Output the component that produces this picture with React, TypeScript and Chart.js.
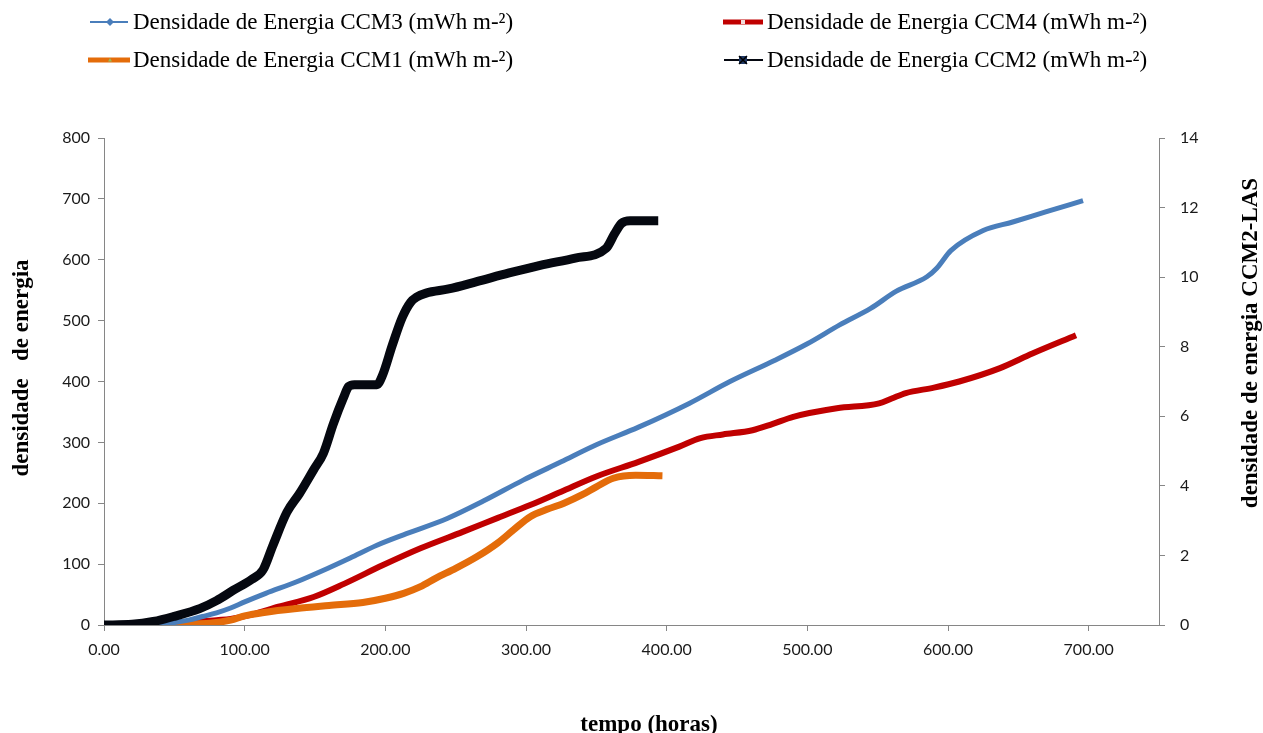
import React, { useEffect, useRef } from "react";
import { Chart, registerables } from "chart.js";

Chart.register(...registerables);

// ---- Data (hours, energy density) ----
const ccm3Hours = [0, 20, 35, 50, 60, 70, 80, 90, 100, 115, 137, 160, 175, 194, 215, 244, 270, 298, 325, 350, 380, 416, 445, 477, 500, 523, 545, 563, 585, 592, 602, 625, 646, 670, 696];
const ccm3Values = [0, 0, 1, 4, 8, 14, 20, 28, 38, 52, 71, 94, 110, 131, 150, 175, 204, 238, 268, 296, 325, 364, 400, 435, 462, 493, 520, 548, 572, 586, 615, 648, 662, 679, 697];

const ccm4Hours = [0, 40, 55, 65, 80, 90, 105, 124, 149, 171, 198, 225, 255, 280, 303, 325, 350, 380, 409, 424, 440, 461, 475, 490, 521, 551, 560, 570, 590, 608, 637, 660, 691];
const ccm4Values = [0, 0, 2, 5, 8, 10, 17, 30, 46, 68, 98, 126, 153, 176, 197, 219, 244, 268, 293, 307, 313, 320, 330, 342, 356, 364, 372, 381, 390, 400, 422, 446, 476];

const ccm1Hours = [0, 20, 40, 60, 75, 90, 100, 115, 137, 160, 184, 200, 213, 225, 236, 250, 265, 280, 291, 303, 315, 327, 340, 350, 362, 378, 397];
const ccm1Values = [0, 0, 1, 2, 3, 8, 15, 21, 27, 32, 37, 44, 52, 63, 77, 93, 112, 135, 156, 178, 190, 200, 214, 227, 241, 246, 245];

// CCM2 plotted on the secondary axis (0-14)
const ccm2Hours = [0, 20, 35, 50, 68, 80, 92, 105, 113, 120, 130, 139, 149, 156, 163, 170, 174, 178, 194, 198, 205, 212, 218, 222, 229, 245, 265, 288, 310, 335, 357, 363, 368, 374, 394];
const ccm2Values = [0, 0.02, 0.1, 0.25, 0.47, 0.7, 1.0, 1.31, 1.58, 2.28, 3.24, 3.78, 4.46, 4.94, 5.78, 6.51, 6.86, 6.91, 6.91, 7.18, 8.05, 8.84, 9.28, 9.42, 9.54, 9.66, 9.87, 10.12, 10.34, 10.55, 10.83, 11.25, 11.55, 11.62, 11.62];

const xTickValues = [0, 100, 200, 300, 400, 500, 600, 700];

const legendLabels = [
  "Densidade de Energia CCM3 (mWh m-²)",
  "Densidade de Energia CCM4 (mWh m-²)",
  "Densidade de Energia CCM1 (mWh m-²)",
  "Densidade de Energia CCM2 (mWh m-²)",
];

const xTitle = "tempo (horas)";
const yTitle = "densidade   de energia";
const y1Title = "densidade de energia CCM2-LAS";

const COL_BLUE = "#4A7EBB";
const COL_RED = "#C00000";
const COL_ORANGE = "#E46C0A";
const COL_BLACK = "#050810";
const AXIS = "#868686";

const toPoints = (xs: number[], ys: number[]) => xs.map((x, i) => ({ x, y: ys[i] }));

const overlayPlugin = {
  id: "overlay",
  afterDraw(chart: any) {
    const ctx: CanvasRenderingContext2D = chart.ctx;
    ctx.save();
    // ---- Legend ----
    const rowY = [22, 60];
    const drawText = (txt: string, x: number, y: number) => {
      ctx.font = "23px 'Liberation Serif', 'Times New Roman', serif";
      ctx.fillStyle = "#000";
      ctx.textAlign = "left";
      ctx.textBaseline = "middle";
      ctx.fillText(txt, x, y + 1);
    };
    // CCM3 blue
    ctx.strokeStyle = COL_BLUE;
    ctx.lineWidth = 2;
    ctx.beginPath(); ctx.moveTo(90, rowY[0]); ctx.lineTo(128, rowY[0]); ctx.stroke();
    ctx.fillStyle = COL_BLUE;
    ctx.beginPath(); ctx.moveTo(110, rowY[0] - 4); ctx.lineTo(114, rowY[0]); ctx.lineTo(110, rowY[0] + 4); ctx.lineTo(106, rowY[0]); ctx.closePath(); ctx.fill();
    drawText(legendLabels[0], 133, rowY[0]);
    // CCM1 orange
    ctx.strokeStyle = COL_ORANGE;
    ctx.lineWidth = 5;
    ctx.beginPath(); ctx.moveTo(88, rowY[1]); ctx.lineTo(130, rowY[1]); ctx.stroke();
    ctx.fillStyle = "#9BBB59";
    ctx.beginPath(); ctx.moveTo(110, rowY[1] - 2); ctx.lineTo(112, rowY[1] + 1.5); ctx.lineTo(108, rowY[1] + 1.5); ctx.closePath(); ctx.fill();
    drawText(legendLabels[2], 133, rowY[1]);
    // CCM4 red
    ctx.strokeStyle = COL_RED;
    ctx.lineWidth = 5;
    ctx.beginPath(); ctx.moveTo(723, rowY[0]); ctx.lineTo(763, rowY[0]); ctx.stroke();
    ctx.fillStyle = "#F2DCDB";
    ctx.fillRect(741, rowY[0] - 2, 4, 4);
    drawText(legendLabels[1], 767, rowY[0]);
    // CCM2 black
    ctx.strokeStyle = COL_BLACK;
    ctx.lineWidth = 2;
    ctx.beginPath(); ctx.moveTo(724, rowY[1]); ctx.lineTo(763, rowY[1]); ctx.stroke();
    ctx.fillStyle = "#1F3864";
    ctx.fillRect(739, rowY[1] - 4, 8, 8);
    ctx.strokeStyle = "#000";
    ctx.lineWidth = 1.5;
    ctx.beginPath();
    ctx.moveTo(739, rowY[1] - 4); ctx.lineTo(747, rowY[1] + 4);
    ctx.moveTo(747, rowY[1] - 4); ctx.lineTo(739, rowY[1] + 4);
    ctx.stroke();
    drawText(legendLabels[3], 767, rowY[1]);

    // ---- Axis titles ----
    ctx.font = "bold 23px 'Liberation Serif', 'Times New Roman', serif";
    ctx.fillStyle = "#000";
    ctx.textAlign = "center";
    ctx.textBaseline = "middle";
    ctx.save();
    ctx.translate(22, 368);
    ctx.rotate(-Math.PI / 2);
    ctx.fillText(yTitle, 0, 0);
    ctx.restore();
    ctx.save();
    ctx.translate(1251, 343);
    ctx.rotate(-Math.PI / 2);
    ctx.fillText(y1Title, 0, 0);
    ctx.restore();
    ctx.textBaseline = "alphabetic";
    ctx.fillText(xTitle, 649, 731);
    ctx.restore();
  },
};

export default function App() {
  const canvasRef = useRef<HTMLCanvasElement | null>(null);

  useEffect(() => {
    if (!canvasRef.current) return;
    const tickFont = { family: "Lato, 'Open Sans', sans-serif", size: 16 };
    const chart = new Chart(canvasRef.current, {
      type: "line",
      data: {
        datasets: [
          {
            label: legendLabels[3],
            data: toPoints(ccm2Hours, ccm2Values),
            yAxisID: "y1",
            borderColor: COL_BLACK,
            borderWidth: 9,
            pointRadius: 0,
            cubicInterpolationMode: "monotone",
          },
          {
            label: legendLabels[0],
            data: toPoints(ccm3Hours, ccm3Values),
            yAxisID: "y",
            borderColor: COL_BLUE,
            borderWidth: 5,
            pointRadius: 0,
            cubicInterpolationMode: "monotone",
          },
          {
            label: legendLabels[2],
            data: toPoints(ccm1Hours, ccm1Values),
            yAxisID: "y",
            borderColor: COL_ORANGE,
            borderWidth: 7,
            pointRadius: 0,
            cubicInterpolationMode: "monotone",
          },
          {
            label: legendLabels[1],
            data: toPoints(ccm4Hours, ccm4Values),
            yAxisID: "y",
            borderColor: COL_RED,
            borderWidth: 6,
            pointRadius: 0,
            cubicInterpolationMode: "monotone",
          },
        ],
      },
      options: {
        animation: false,
        responsive: false,
        maintainAspectRatio: false,
        layout: { padding: { top: 138, left: 0, right: 0, bottom: 0 } },
        plugins: { legend: { display: false }, tooltip: { enabled: false } },
        scales: {
          x: {
            type: "linear",
            min: 0,
            max: 750,
            afterBuildTicks: (s: any) => {
              s.ticks = xTickValues.map((v) => ({ value: v }));
            },
            afterFit: (s: any) => {
              s.height = 108;
            },
            ticks: {
              callback: (v: any) => Number(v).toFixed(2),
              font: tickFont,
              color: "#1a1a1a",
              padding: 9,
              maxRotation: 0,
              autoSkip: false,
            },
            grid: { drawOnChartArea: false, tickLength: 6, color: AXIS },
            border: { color: AXIS, width: 1 },
          },
          y: {
            position: "left",
            min: 0,
            max: 800,
            afterFit: (s: any) => {
              s.width = 104;
            },
            ticks: { stepSize: 100, font: tickFont, color: "#1a1a1a", padding: 8 },
            grid: { drawOnChartArea: false, tickLength: 6, color: AXIS },
            border: { color: AXIS, width: 1 },
          },
          y1: {
            position: "right",
            min: 0,
            max: 14,
            afterFit: (s: any) => {
              s.width = 104;
            },
            ticks: { stepSize: 2, font: tickFont, color: "#1a1a1a", padding: 15 },
            grid: { drawOnChartArea: false, tickLength: 6, color: AXIS },
            border: { color: AXIS, width: 1 },
          },
        },
      } as any,
      plugins: [overlayPlugin],
    });
    return () => chart.destroy();
  }, []);

  return (
    <div style={{ position: "absolute", left: 0, top: 0, width: 1263, height: 733, background: "#fff" }}>
      <canvas ref={canvasRef} width={1263} height={733} style={{ display: "block" }} />
    </div>
  );
}
